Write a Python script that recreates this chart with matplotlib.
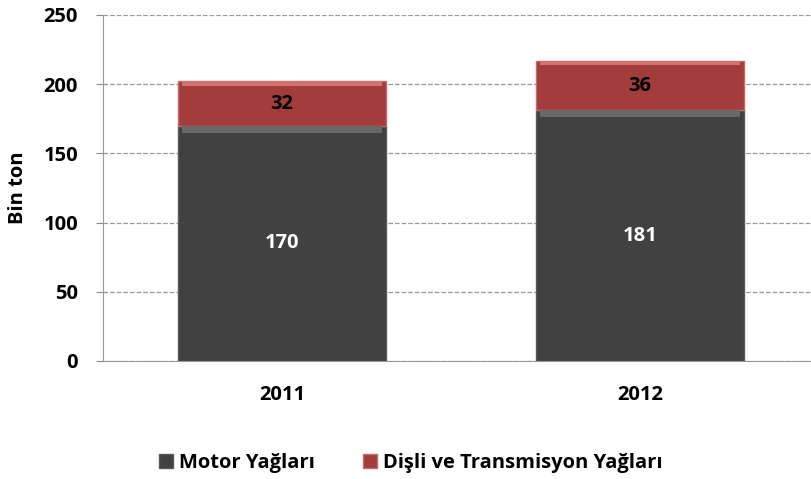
import matplotlib.pyplot as plt

plt.rcParams['font.family'] = ['Open Sans', 'DejaVu Sans']
fs = 14.5

years = ['2011', '2012']
motor = [170, 181]
disli = [32, 36]
series_names = ['Motor Yağları', 'Dişli ve Transmisyon Yağları']

fig = plt.figure(figsize=(8.11, 4.79), dpi=100)
ax = fig.add_axes([103 / 811, 1 - 361 / 479, 716 / 811, 346 / 479])

x = range(len(years))
width = 0.58
b1 = ax.bar(x, motor, width, color='#414141', edgecolor='#5a5a5a', linewidth=1.0,
            label=series_names[0], zorder=3)
b2 = ax.bar(x, disli, width, bottom=motor, color='#a33d3c', edgecolor='#c46a68',
            linewidth=1.0, label=series_names[1], zorder=3)

# bevel-ish highlight strips
for i in x:
    ax.bar(i, 5, width * 0.96, bottom=motor[i] - 5, color='#686868', zorder=3.5, linewidth=0)
    ax.bar(i, 3, width * 0.96, bottom=motor[i] + disli[i] - 3, color='#d27372', zorder=3.5, linewidth=0)

for i in x:
    ax.text(i, motor[i] / 2, str(motor[i]), ha='center', va='center',
            color='white', fontsize=fs, fontweight='bold', zorder=5)
    ax.text(i, motor[i] + disli[i] / 2, str(disli[i]), ha='center', va='center',
            color='black', fontsize=fs, fontweight='bold', zorder=5)

ax.set_xlim(-0.5, 1.5)
ax.set_ylim(0, 250)
ax.set_yticks(range(0, 251, 50))
ax.set_xticks(list(x))
ax.set_xticklabels(years, fontsize=fs, fontweight='bold')
for t in ax.get_yticklabels():
    t.set_fontsize(fs)
    t.set_fontweight('bold')
ax.tick_params(axis='y', length=5, color='#888888', pad=13)
ax.tick_params(axis='x', length=0, pad=17)
ax.yaxis.grid(True, linestyle='--', color='#999999', linewidth=0.9, zorder=0)
ax.set_axisbelow(True)
for s in ['top', 'right']:
    ax.spines[s].set_visible(False)
for s in ['left', 'bottom']:
    ax.spines[s].set_color('#999999')
ax.set_ylabel('Bin ton', fontsize=fs, fontweight='bold')
ax.yaxis.set_label_coords(-0.105, 0.5)

fig.legend(handles=[b1, b2], labels=series_names, loc='center',
           bbox_to_anchor=(411 / 811, 1 - 463 / 479), ncol=2, frameon=False,
           prop={'size': fs, 'weight': 'bold'}, handlelength=0.7, handleheight=0.7,
           handletextpad=0.3, columnspacing=2.4)

fig.savefig('out.png', dpi=100)
